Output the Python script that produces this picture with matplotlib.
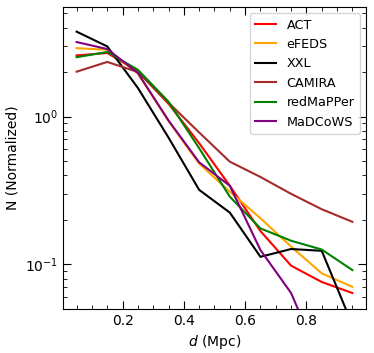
import matplotlib
matplotlib.use('Agg')
import matplotlib.pyplot as plt
import numpy as np

d = [0.05, 0.15, 0.25, 0.35, 0.45, 0.55, 0.65, 0.75, 0.85, 0.95]

act = [2.59, 2.69, 2.02, 1.22, 0.66, 0.34, 0.168, 0.098, 0.076, 0.064]
efeds = [2.90, 2.83, 1.95, 0.93, 0.48, 0.31, 0.205, 0.132, 0.087, 0.0705]
xxl = [3.75, 2.98, 1.56, 0.72, 0.319, 0.224, 0.1125, 0.127, 0.1235, 0.039]
camira = [2.01, 2.34, 2.00, 1.24, 0.78, 0.495, 0.39, 0.30, 0.236, 0.194]
redmapper = [2.52, 2.73, 2.07, 1.26, 0.61, 0.287, 0.175, 0.1445, 0.126, 0.0915]
madcows = [3.19, 2.86, 1.97, 0.94, 0.49, 0.34, 0.125, 0.064, 0.021, 0.010]

fig = plt.figure(figsize=(3.74, 3.53), dpi=100)
ax = fig.add_axes([0.168, 0.125, 0.811, 0.855])

ax.plot(d, act, color='red', label='ACT')
ax.plot(d, efeds, color='orange', label='eFEDS')
ax.plot(d, xxl, color='black', label='XXL')
ax.plot(d, camira, color='brown', label='CAMIRA')
ax.plot(d, redmapper, color='green', label='redMaPPer')
ax.plot(d, madcows, color='purple', label='MaDCoWS')

ax.set_yscale('log')
ax.set_xlim(0.005, 0.995)
ax.set_ylim(0.05, 5.5)
ax.set_xticks([0.2, 0.4, 0.6, 0.8])
ax.minorticks_on()
ax.tick_params(which='both', direction='in', top=True, right=True)
ax.tick_params(which='major', length=6)
ax.tick_params(which='minor', length=3)

ax.set_xlabel('$d$ (Mpc)')
ax.set_ylabel('N (Normalized)')
ax.legend(loc='upper right', fontsize=9.2, handlelength=1.7)

fig.savefig('out.png', dpi=100)
